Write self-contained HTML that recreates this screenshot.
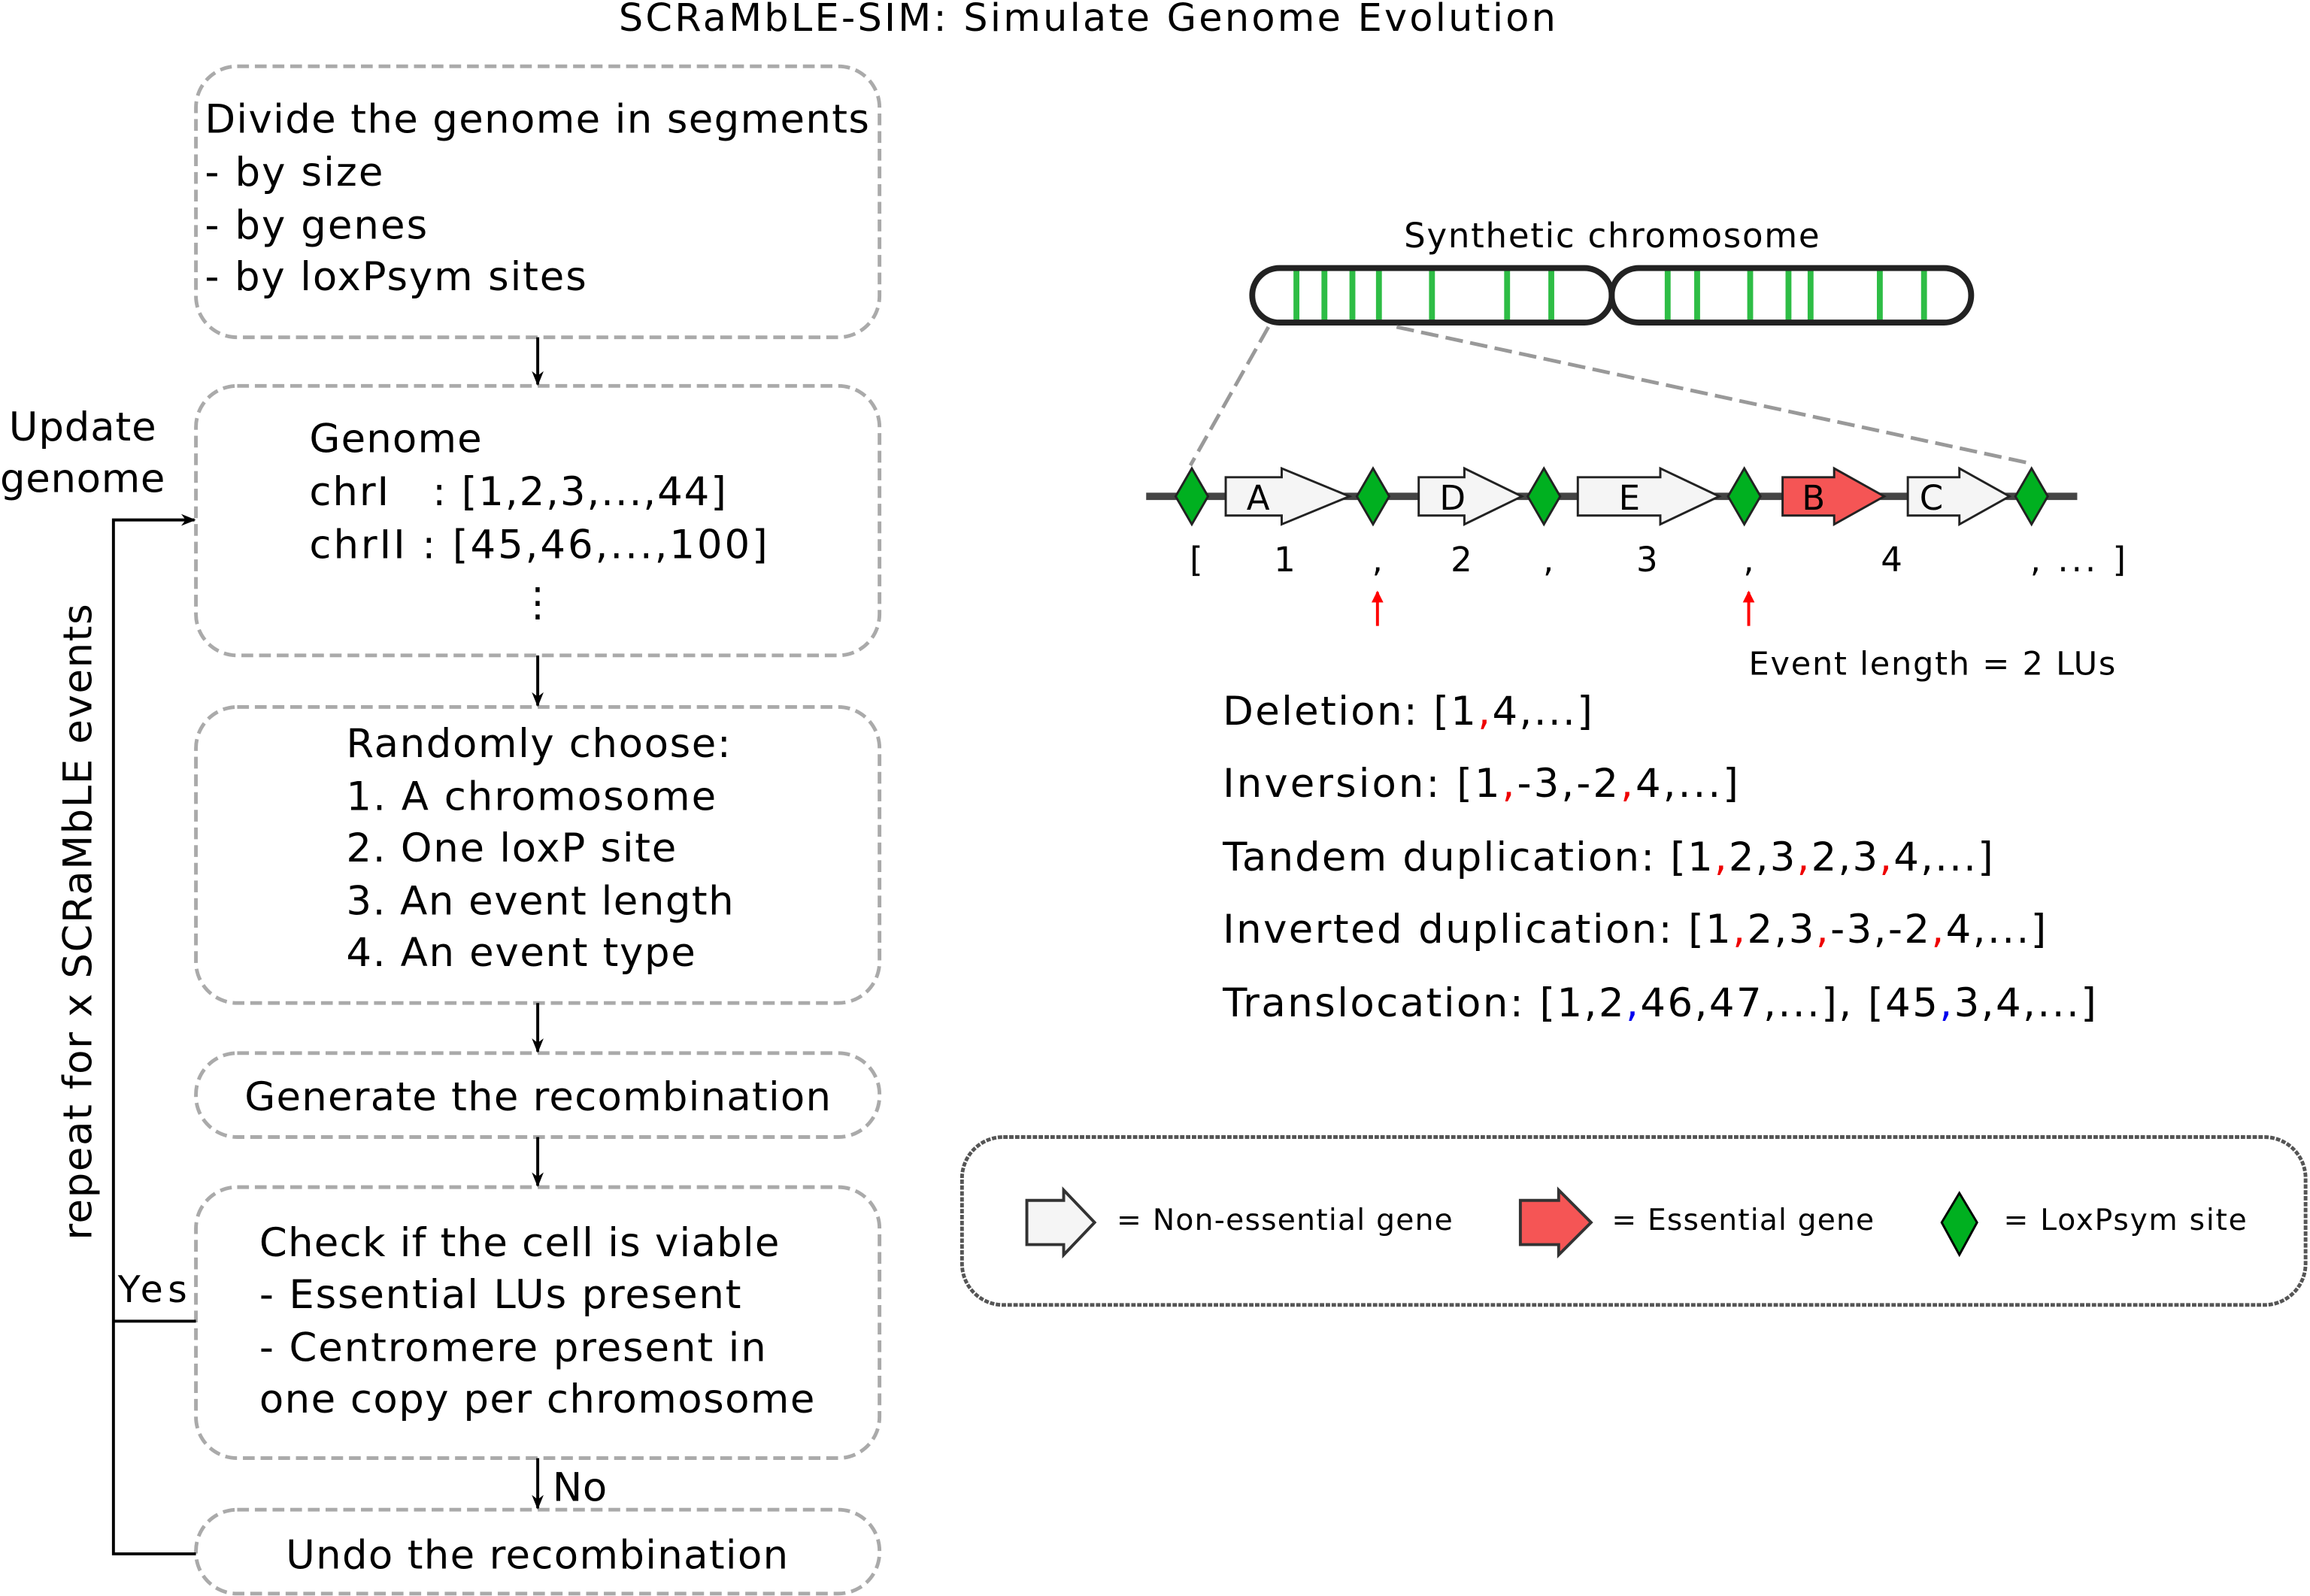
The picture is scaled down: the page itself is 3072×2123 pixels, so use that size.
<!DOCTYPE html>
<html><head><meta charset="utf-8"><style>html,body{margin:0;padding:0;background:#fff}svg{display:block}text{font-family:"DejaVu Sans","Liberation Sans",sans-serif;fill:#000}</style></head><body>
<svg width="3072" height="2123" viewBox="0 0 1568 1083.6" xmlns="http://www.w3.org/2000/svg">
<defs>
<marker id="ah" markerWidth="10" markerHeight="10" refX="9" refY="5" orient="auto" markerUnits="userSpaceOnUse"><path d="M0,1 L10,5 L0,9 L3,5 Z" fill="#000"/></marker>
<marker id="rh" markerWidth="8" markerHeight="10" refX="7" refY="5" orient="auto" markerUnits="userSpaceOnUse"><path d="M0,1 L8,5 L0,9 Z" fill="#f00"/></marker>
</defs>
<text x="420" y="21" font-size="26" textLength="636" lengthAdjust="spacing">SCRaMbLE-SIM: Simulate Genome Evolution</text>
<g fill="none" stroke="#aaa" stroke-width="2.5" stroke-dasharray="8,4">
<rect x="133" y="45" width="464" height="184" rx="28"/>
<rect x="133" y="262" width="464" height="183" rx="28"/>
<rect x="133" y="480" width="464" height="201" rx="28"/>
<rect x="133" y="715" width="464" height="57" rx="28"/>
<rect x="133" y="806" width="464" height="184" rx="28"/>
<rect x="133" y="1025" width="464" height="57" rx="28"/>
</g>
<g font-size="27">
<text x="139" y="90" textLength="451" lengthAdjust="spacing">Divide the genome in segments</text>
<text x="139" y="126" textLength="121" lengthAdjust="spacing">- by size</text>
<text x="139" y="162" textLength="151" lengthAdjust="spacing">- by genes</text>
<text x="139" y="197" textLength="259" lengthAdjust="spacing">- by loxPsym sites</text>
<text x="210" y="307" textLength="117" lengthAdjust="spacing">Genome</text>
<text x="210" y="343" textLength="283" lengthAdjust="spacing" xml:space="preserve">chrI   : [1,2,3,...,44]</text>
<text x="210" y="379" textLength="311" lengthAdjust="spacing">chrII : [45,46,...,100]</text>
<text x="365" y="418" text-anchor="middle">⋮</text>
<text x="235" y="514" textLength="261" lengthAdjust="spacing">Randomly choose:</text>
<text x="235" y="550" textLength="251" lengthAdjust="spacing">1. A chromosome</text>
<text x="235" y="585" textLength="224" lengthAdjust="spacing">2. One loxP site</text>
<text x="235" y="621" textLength="263" lengthAdjust="spacing">3. An event length</text>
<text x="235" y="656" textLength="237" lengthAdjust="spacing">4. An event type</text>
<text x="166" y="754" textLength="398" lengthAdjust="spacing">Generate the recombination</text>
<text x="176" y="853" textLength="353" lengthAdjust="spacing">Check if the cell is viable</text>
<text x="176" y="888" textLength="327" lengthAdjust="spacing">- Essential LUs present</text>
<text x="176" y="924" textLength="344" lengthAdjust="spacing">- Centromere present in</text>
<text x="176" y="959" textLength="377" lengthAdjust="spacing">one copy per chromosome</text>
<text x="194" y="1065" textLength="341" lengthAdjust="spacing">Undo the recombination</text>
<text x="375" y="1019" textLength="37" lengthAdjust="spacing">No</text>
<text x="6" y="299" textLength="100" lengthAdjust="spacing">Update</text>
<text x="0" y="334" textLength="112" lengthAdjust="spacing">genome</text>
<text transform="translate(62,842) rotate(-90)" textLength="432" lengthAdjust="spacing">repeat for x SCRaMbLE events</text>
</g>
<text x="80" y="884" font-size="25" textLength="47" lengthAdjust="spacing">Yes</text>
<g stroke="#000" stroke-width="2" fill="none" marker-end="url(#ah)">
<line x1="365" y1="229" x2="365" y2="261"/>
<line x1="365" y1="445" x2="365" y2="479"/>
<line x1="365" y1="681" x2="365" y2="714"/>
<line x1="365" y1="772" x2="365" y2="805"/>
<line x1="365" y1="990" x2="365" y2="1024"/>
<polyline points="133,1055 77,1055 77,353 132,353"/>
</g>
<line x1="77" y1="897" x2="133" y2="897" stroke="#000" stroke-width="2"/>
<text x="953" y="168" font-size="23" textLength="282" lengthAdjust="spacing">Synthetic chromosome</text>
<g stroke="#2ebd45" stroke-width="4">
<line x1="880" y1="184" x2="880" y2="218"/><line x1="899" y1="184" x2="899" y2="218"/><line x1="918" y1="184" x2="918" y2="218"/><line x1="936" y1="184" x2="936" y2="218"/><line x1="972" y1="184" x2="972" y2="218"/><line x1="1023" y1="184" x2="1023" y2="218"/><line x1="1053" y1="184" x2="1053" y2="218"/>
<line x1="1132" y1="184" x2="1132" y2="218"/><line x1="1152" y1="184" x2="1152" y2="218"/><line x1="1188" y1="184" x2="1188" y2="218"/><line x1="1214" y1="184" x2="1214" y2="218"/><line x1="1229" y1="184" x2="1229" y2="218"/><line x1="1276" y1="184" x2="1276" y2="218"/><line x1="1306" y1="184" x2="1306" y2="218"/>
</g>
<g fill="none" stroke="#222" stroke-width="4">
<rect x="850" y="182" width="244" height="37" rx="18.5"/>
<rect x="1094" y="182" width="244" height="37" rx="18.5"/>
</g>
<g stroke="#999" stroke-width="2.5" stroke-dasharray="12,5" fill="none">
<line x1="861" y1="222" x2="808" y2="316"/>
<line x1="948" y1="222" x2="1380" y2="315"/>
</g>
<line x1="778" y1="337" x2="1410" y2="337" stroke="#444" stroke-width="5"/>
<g stroke="#222" stroke-width="1.5">
<path d="M832,324 H870 V318 L916,337 L870,356 V350 H832 Z" fill="#f5f5f5"/>
<path d="M963,324 H994 V318 L1033,337 L994,356 V350 H963 Z" fill="#f5f5f5"/>
<path d="M1071,324 H1127 V318 L1167,337 L1127,356 V350 H1071 Z" fill="#f5f5f5"/>
<path d="M1210,324 H1245 V318 L1279,337 L1245,356 V350 H1210 Z" fill="#f55555"/>
<path d="M1295,324 H1330 V318 L1364,337 L1330,356 V350 H1295 Z" fill="#f5f5f5"/>
<path d="M809,318 L820,337 L809,356 L798,337 Z" fill="#00b020"/>
<path d="M932,318 L943,337 L932,356 L921,337 Z" fill="#00b020"/>
<path d="M1048,318 L1059,337 L1048,356 L1037,337 Z" fill="#00b020"/>
<path d="M1184,318 L1195,337 L1184,356 L1173,337 Z" fill="#00b020"/>
<path d="M1379,318 L1390,337 L1379,356 L1368,337 Z" fill="#00b020"/>
</g>
<g font-size="23" text-anchor="middle">
<text x="854" y="346">A</text><text x="986" y="346">D</text><text x="1106" y="346">E</text><text x="1231" y="346">B</text><text x="1311" y="346">C</text>
<text x="812" y="388">[</text><text x="872" y="388">1</text><text x="935" y="388">,</text><text x="992" y="388">2</text><text x="1051" y="388">,</text><text x="1118" y="388">3</text><text x="1187" y="388">,</text><text x="1284" y="388">4</text>
</g>
<text x="1378" y="388" font-size="23" textLength="65" lengthAdjust="spacing">, ... ]</text>
<g stroke="#f00" stroke-width="2" marker-end="url(#rh)">
<line x1="935" y1="425" x2="935" y2="402"/>
<line x1="1187" y1="425" x2="1187" y2="402"/>
</g>
<text x="1187" y="458" font-size="22" textLength="249" lengthAdjust="spacing">Event length = 2 LUs</text>
<g font-size="27">
<text x="830" y="492" textLength="251" lengthAdjust="spacing">Deletion: [1<tspan fill="#e00">,</tspan>4,...]</text>
<text x="830" y="541" textLength="350" lengthAdjust="spacing">Inversion: [1<tspan fill="#e00">,</tspan>-3,-2<tspan fill="#e00">,</tspan>4,...]</text>
<text x="830" y="591" textLength="523" lengthAdjust="spacing">Tandem duplication: [1<tspan fill="#e00">,</tspan>2,3<tspan fill="#e00">,</tspan>2,3<tspan fill="#e00">,</tspan>4,...]</text>
<text x="830" y="640" textLength="559" lengthAdjust="spacing">Inverted duplication: [1<tspan fill="#e00">,</tspan>2,3<tspan fill="#e00">,</tspan>-3,-2<tspan fill="#e00">,</tspan>4,...]</text>
<text x="830" y="690" textLength="593" lengthAdjust="spacing">Translocation: [1,2<tspan fill="#00e">,</tspan>46,47,...], [45<tspan fill="#00e">,</tspan>3,4,...]</text>
</g>
<rect x="653" y="772" width="912" height="114" rx="28" fill="none" stroke="#555" stroke-width="2.5" stroke-dasharray="3,1"/>
<g stroke="#333" stroke-width="2">
<path d="M697,815 H722 V808 L743,830 L722,852 V845 H697 Z" fill="#f5f5f5"/>
<path d="M1032,815 H1058 V808 L1080,830 L1058,852 V845 H1032 Z" fill="#f55555"/>
<path d="M1330,810 L1342,830 L1330,852 L1318,830 Z" fill="#00b020" stroke="#000" stroke-width="1.5"/>
</g>
<g font-size="20">
<text x="758" y="835" textLength="228" lengthAdjust="spacing">=  Non-essential gene</text>
<text x="1094" y="835" textLength="178" lengthAdjust="spacing">=  Essential gene</text>
<text x="1360" y="835" textLength="165" lengthAdjust="spacing">=  LoxPsym site</text>
</g>
</svg>
</body></html>
